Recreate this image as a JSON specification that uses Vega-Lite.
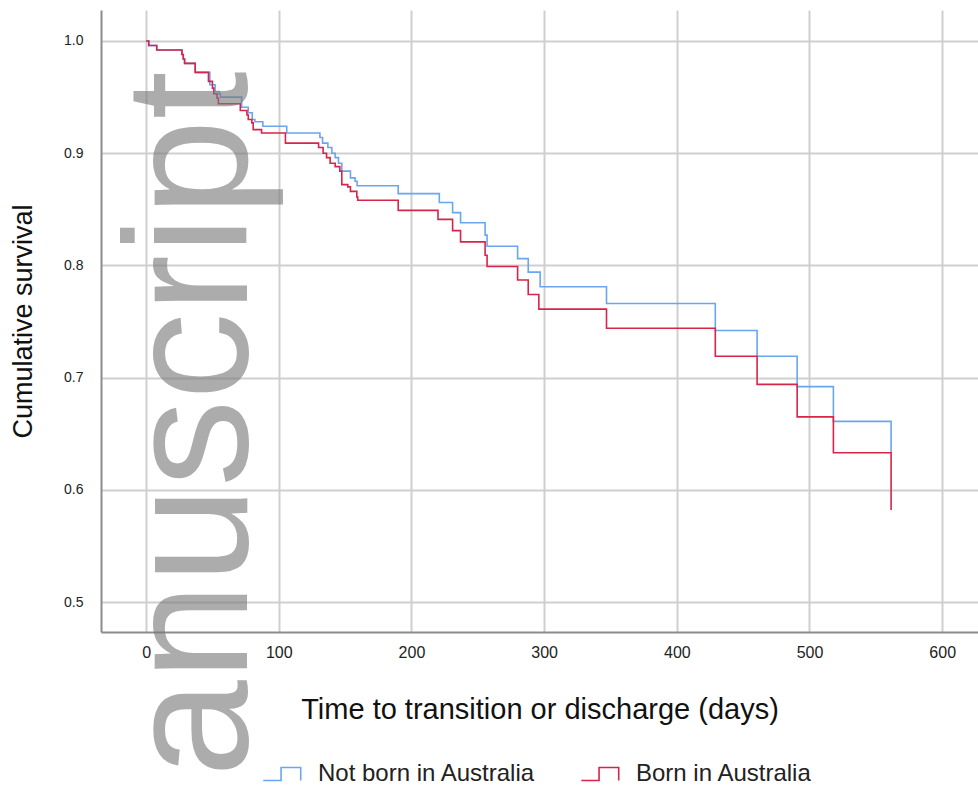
{
  "$schema": "https://vega.github.io/schema/vega-lite/v6.json",
  "width": 877,
  "height": 622,
  "autosize": {"type": "none"},
  "padding": {"left": 101, "top": 10, "right": 0, "bottom": 158},
  "background": "white",
  "config": {
    "view": {"stroke": null},
    "font": "Liberation Sans",
    "axis": {
      "grid": true,
      "gridColor": "#cfcfcf",
      "gridWidth": 2,
      "domainColor": "#8c8c8c",
      "domainWidth": 2,
      "ticks": false,
      "labelFont": "Liberation Sans",
      "titleFont": "Liberation Sans",
      "labelColor": "#222222",
      "titleColor": "#111111",
      "titleFontWeight": "normal"
    }
  },
  "layer": [
    {
      "data": {
        "values": [
          {"t": 0, "s": 1.0, "g": "Not born in Australia"},
          {"t": 2, "s": 0.996, "g": "Not born in Australia"},
          {"t": 8, "s": 0.992, "g": "Not born in Australia"},
          {"t": 27, "s": 0.988, "g": "Not born in Australia"},
          {"t": 28, "s": 0.984, "g": "Not born in Australia"},
          {"t": 29, "s": 0.98, "g": "Not born in Australia"},
          {"t": 37, "s": 0.972, "g": "Not born in Australia"},
          {"t": 48, "s": 0.961, "g": "Not born in Australia"},
          {"t": 52, "s": 0.955, "g": "Not born in Australia"},
          {"t": 55, "s": 0.953, "g": "Not born in Australia"},
          {"t": 56, "s": 0.95, "g": "Not born in Australia"},
          {"t": 72, "s": 0.941, "g": "Not born in Australia"},
          {"t": 77, "s": 0.936, "g": "Not born in Australia"},
          {"t": 80, "s": 0.93, "g": "Not born in Australia"},
          {"t": 82, "s": 0.928, "g": "Not born in Australia"},
          {"t": 88, "s": 0.924, "g": "Not born in Australia"},
          {"t": 106, "s": 0.918, "g": "Not born in Australia"},
          {"t": 131, "s": 0.914, "g": "Not born in Australia"},
          {"t": 133, "s": 0.909, "g": "Not born in Australia"},
          {"t": 137, "s": 0.905, "g": "Not born in Australia"},
          {"t": 140, "s": 0.9, "g": "Not born in Australia"},
          {"t": 142.5, "s": 0.896, "g": "Not born in Australia"},
          {"t": 145, "s": 0.891, "g": "Not born in Australia"},
          {"t": 147.5, "s": 0.884, "g": "Not born in Australia"},
          {"t": 154, "s": 0.878, "g": "Not born in Australia"},
          {"t": 157.5, "s": 0.875, "g": "Not born in Australia"},
          {"t": 159, "s": 0.871, "g": "Not born in Australia"},
          {"t": 190, "s": 0.864, "g": "Not born in Australia"},
          {"t": 221, "s": 0.856, "g": "Not born in Australia"},
          {"t": 231, "s": 0.847, "g": "Not born in Australia"},
          {"t": 237, "s": 0.838, "g": "Not born in Australia"},
          {"t": 255.5, "s": 0.827, "g": "Not born in Australia"},
          {"t": 257, "s": 0.817, "g": "Not born in Australia"},
          {"t": 280, "s": 0.806, "g": "Not born in Australia"},
          {"t": 288, "s": 0.794, "g": "Not born in Australia"},
          {"t": 297, "s": 0.781, "g": "Not born in Australia"},
          {"t": 347, "s": 0.766, "g": "Not born in Australia"},
          {"t": 429, "s": 0.742, "g": "Not born in Australia"},
          {"t": 460.5, "s": 0.719, "g": "Not born in Australia"},
          {"t": 490.7, "s": 0.692, "g": "Not born in Australia"},
          {"t": 518, "s": 0.661, "g": "Not born in Australia"},
          {"t": 561.5, "s": 0.633, "g": "Not born in Australia"},
          {"t": 0, "s": 1.0, "g": "Born in Australia"},
          {"t": 2, "s": 0.996, "g": "Born in Australia"},
          {"t": 8, "s": 0.992, "g": "Born in Australia"},
          {"t": 27, "s": 0.988, "g": "Born in Australia"},
          {"t": 28, "s": 0.984, "g": "Born in Australia"},
          {"t": 29, "s": 0.98, "g": "Born in Australia"},
          {"t": 37, "s": 0.972, "g": "Born in Australia"},
          {"t": 47, "s": 0.964, "g": "Born in Australia"},
          {"t": 50, "s": 0.958, "g": "Born in Australia"},
          {"t": 51, "s": 0.953, "g": "Born in Australia"},
          {"t": 53.5, "s": 0.949, "g": "Born in Australia"},
          {"t": 54.5, "s": 0.944, "g": "Born in Australia"},
          {"t": 71, "s": 0.938, "g": "Born in Australia"},
          {"t": 76, "s": 0.934, "g": "Born in Australia"},
          {"t": 77, "s": 0.93, "g": "Born in Australia"},
          {"t": 79.7, "s": 0.927, "g": "Born in Australia"},
          {"t": 80.7, "s": 0.921, "g": "Born in Australia"},
          {"t": 87, "s": 0.918, "g": "Born in Australia"},
          {"t": 105, "s": 0.909, "g": "Born in Australia"},
          {"t": 130, "s": 0.905, "g": "Born in Australia"},
          {"t": 133.4, "s": 0.9, "g": "Born in Australia"},
          {"t": 136, "s": 0.896, "g": "Born in Australia"},
          {"t": 138.7, "s": 0.891, "g": "Born in Australia"},
          {"t": 142.5, "s": 0.888, "g": "Born in Australia"},
          {"t": 146, "s": 0.884, "g": "Born in Australia"},
          {"t": 147.5, "s": 0.872, "g": "Born in Australia"},
          {"t": 152, "s": 0.87, "g": "Born in Australia"},
          {"t": 154, "s": 0.866, "g": "Born in Australia"},
          {"t": 158.8, "s": 0.861, "g": "Born in Australia"},
          {"t": 159.5, "s": 0.858, "g": "Born in Australia"},
          {"t": 190, "s": 0.849, "g": "Born in Australia"},
          {"t": 220, "s": 0.841, "g": "Born in Australia"},
          {"t": 231, "s": 0.831, "g": "Born in Australia"},
          {"t": 237, "s": 0.821, "g": "Born in Australia"},
          {"t": 255.5, "s": 0.809, "g": "Born in Australia"},
          {"t": 257, "s": 0.799, "g": "Born in Australia"},
          {"t": 280, "s": 0.787, "g": "Born in Australia"},
          {"t": 288, "s": 0.774, "g": "Born in Australia"},
          {"t": 296, "s": 0.761, "g": "Born in Australia"},
          {"t": 347, "s": 0.744, "g": "Born in Australia"},
          {"t": 429, "s": 0.719, "g": "Born in Australia"},
          {"t": 460.5, "s": 0.694, "g": "Born in Australia"},
          {"t": 490.7, "s": 0.665, "g": "Born in Australia"},
          {"t": 518, "s": 0.633, "g": "Born in Australia"},
          {"t": 561.5, "s": 0.582, "g": "Born in Australia"}
        ]
      },
      "mark": {"type": "line", "interpolate": "step-after", "strokeWidth": 1.6},
      "encoding": {
        "x": {
          "field": "t",
          "type": "quantitative",
          "scale": {"domain": [-34, 627], "nice": false, "zero": false},
          "axis": {
            "values": [0, 100, 200, 300, 400, 500, 600],
            "labelFontSize": 16,
            "labelPadding": 12,
            "title": "Time to transition or discharge (days)",
            "titleFontSize": 29,
            "titlePadding": 35
          }
        },
        "y": {
          "field": "s",
          "type": "quantitative",
          "scale": {"domain": [0.4733, 1.0276], "nice": false, "zero": false},
          "axis": {
            "values": [0.5, 0.6, 0.7, 0.8, 0.9, 1.0],
            "format": ".1f",
            "labelFontSize": 14,
            "labelPadding": 18,
            "title": "Cumulative survival",
            "titleFontSize": 27,
            "titlePadding": 26
          }
        },
        "color": {
          "field": "g",
          "type": "nominal",
          "scale": {
            "domain": ["Not born in Australia", "Born in Australia"],
            "range": ["#6aa6ee", "#d8244a"]
          },
          "legend": {
            "orient": "none",
            "direction": "horizontal",
            "legendX": 161,
            "legendY": 744,
            "title": null,
            "symbolType": "M-1,0.35H-0.05V-0.35H1V0.35",
            "symbolSize": 1400,
            "symbolStrokeWidth": 1.6,
            "symbolFillColor": "transparent",
            "labelFontSize": 24,
            "labelLimit": 0,
            "labelFont": "Liberation Sans",
            "labelColor": "#222222",
            "labelOffset": 16,
            "columnPadding": 42
          }
        }
      }
    },
    {
      "data": {"values": [{"w": "anuscript"}]},
      "mark": {
        "type": "text",
        "angle": 270,
        "align": "left",
        "baseline": "alphabetic",
        "font": "Liberation Sans",
        "fontSize": 174,
        "color": "#7a7a7a",
        "opacity": 0.62
      },
      "encoding": {
        "x": {"datum": 76, "type": "quantitative"},
        "y": {"datum": 0.344, "type": "quantitative"},
        "text": {"field": "w"}
      }
    }
  ]
}
